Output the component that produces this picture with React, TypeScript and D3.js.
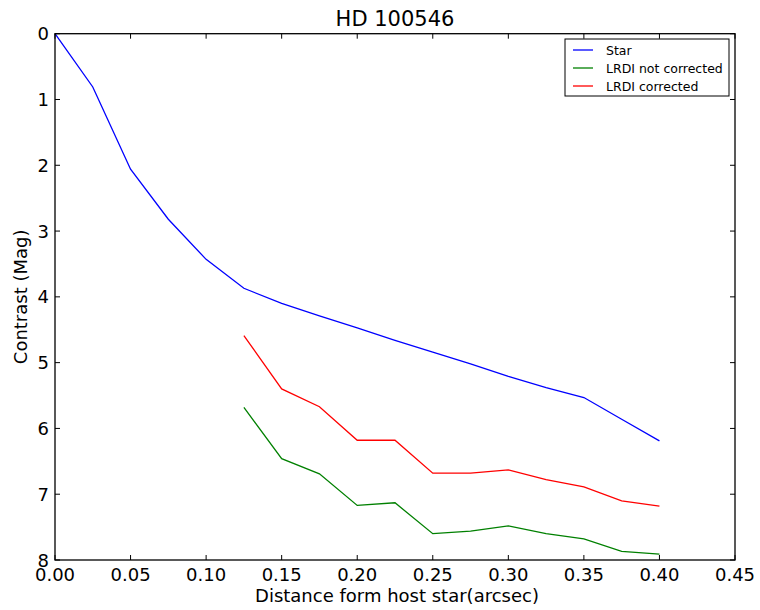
import React from "react";
import * as d3 from "d3";

const distance = [0, 0.025, 0.05, 0.075, 0.1, 0.125, 0.15, 0.175, 0.2, 0.225, 0.25, 0.275, 0.3, 0.325, 0.35, 0.375, 0.4];
const starContrast = [0, 0.81, 2.06, 2.82, 3.43, 3.87, 4.1, 4.29, 4.47, 4.66, 4.84, 5.02, 5.21, 5.38, 5.53, 5.86, 6.19];
const lrdiDistance = [0.125, 0.15, 0.175, 0.2, 0.225, 0.25, 0.275, 0.3, 0.325, 0.35, 0.375, 0.4];
const lrdiNotCorrected = [5.68, 6.46, 6.69, 7.17, 7.13, 7.6, 7.56, 7.48, 7.6, 7.68, 7.87, 7.91];
const lrdiCorrected = [4.59, 5.4, 5.67, 6.18, 6.18, 6.68, 6.68, 6.63, 6.78, 6.89, 7.1, 7.18];
const xTicks = [0, 0.05, 0.1, 0.15, 0.2, 0.25, 0.3, 0.35, 0.4, 0.45];
const yTicks = [0, 1, 2, 3, 4, 5, 6, 7, 8];

const series = [
  { name: "Star", xs: distance, ys: starContrast, color: "#0000ff" },
  { name: "LRDI not corrected", xs: lrdiDistance, ys: lrdiNotCorrected, color: "#008000" },
  { name: "LRDI corrected", xs: lrdiDistance, ys: lrdiCorrected, color: "#ff0000" },
];

const W = 760, H = 610;
const L = 55, R = 735, T = 33.7, B = 560;
const font = "'DejaVu Sans', sans-serif";

export default function App() {
  const x = d3.scaleLinear().domain([0, 0.45]).range([L, R]);
  const y = d3.scaleLinear().domain([0, 8]).range([T, B]);
  const line = d3.line<[number, number]>().x(d => x(d[0])).y(d => y(d[1]));
  const tl = 5;
  return (
    <svg width={W} height={H} style={{ position: "absolute", left: 0, top: 0 }} fontFamily={font}>
      <rect x={0} y={0} width={W} height={H} fill="#fff" />
      <text x={(L + R) / 2} y={26} textAnchor="middle" fontSize={21}>HD 100546</text>
      {series.map(s => (
        <path key={s.name} d={line(s.xs.map((v, i) => [v, s.ys[i]] as [number, number])) || ""}
          fill="none" stroke={s.color} strokeWidth={1.3} />
      ))}
      <rect x={L} y={T} width={R - L} height={B - T} fill="none" stroke="#000" strokeWidth={1.3} />
      {xTicks.map(t => (
        <g key={"x" + t}>
          <line x1={x(t)} x2={x(t)} y1={B} y2={B - tl} stroke="#000" strokeWidth={1} />
          <line x1={x(t)} x2={x(t)} y1={T} y2={T + tl} stroke="#000" strokeWidth={1} />
          <text x={x(t)} y={B + 21} textAnchor="middle" fontSize={18}>{t.toFixed(2)}</text>
        </g>
      ))}
      {yTicks.map(t => (
        <g key={"y" + t}>
          <line x1={L} x2={L + tl} y1={y(t)} y2={y(t)} stroke="#000" strokeWidth={1} />
          <line x1={R} x2={R - tl} y1={y(t)} y2={y(t)} stroke="#000" strokeWidth={1} />
          <text x={L - 6} y={y(t) + 6.5} textAnchor="end" fontSize={18}>{t}</text>
        </g>
      ))}
      <text x={(L + R) / 2 + 2} y={602} textAnchor="middle" fontSize={18}>Distance form host star(arcsec)</text>
      <text transform={`translate(27,${(T + B) / 2}) rotate(-90)`} textAnchor="middle" fontSize={18}>Contrast (Mag)</text>
      <g>
        <rect x={565} y={39} width={164} height={57} fill="#fff" stroke="#000" strokeWidth={1} />
        {series.map((s, i) => (
          <g key={"lg" + s.name}>
            <line x1={573} x2={593} y1={50 + i * 18} y2={50 + i * 18} stroke={s.color} strokeWidth={1.3} />
            <text x={606} y={54.5 + i * 18} fontSize={12.5}>{s.name}</text>
          </g>
        ))}
      </g>
    </svg>
  );
}
